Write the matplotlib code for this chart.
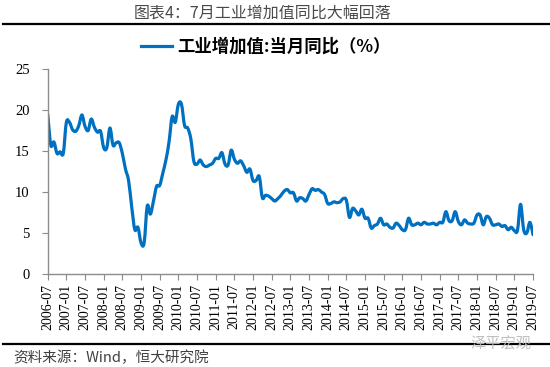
import matplotlib
matplotlib.use("Agg")
import matplotlib.pyplot as plt
from matplotlib.path import Path
from matplotlib.patches import PathPatch
from matplotlib.lines import Line2D
import numpy as np
import pandas as pd

plt.rcParams['font.family'] = ['Noto Sans CJK SC', 'DejaVu Sans']
plt.rcParams['font.serif'] = ['Liberation Serif', 'Times New Roman', 'DejaVu Serif']

title = "图表4：7月工业增加值同比大幅回落"
legend_label = "工业增加值:当月同比（%）"
source = "资料来源：Wind，恒大研究院"
watermark = "泽平宏观"
start_month = "2006-07"

# monthly YoY values, 2006-07 ... 2019-07
values = [
    19.5, 15.7, 16.1, 14.7, 14.9, 14.7,
    18.5, 18.5, 17.6, 17.4, 18.1, 19.4, 18.0, 17.5, 18.9, 17.9, 17.3, 17.4,
    15.4, 15.4, 17.8, 15.7, 16.0, 16.0, 14.7, 12.8, 11.4, 8.2, 5.4, 5.7,
    3.8, 3.8, 8.3, 7.3, 8.9, 10.7, 10.8, 12.3, 13.9, 16.1, 19.2, 18.5,
    20.7, 20.7, 18.1, 17.8, 16.5, 13.7, 13.4, 13.9, 13.3, 13.1, 13.3, 13.5,
    14.1, 14.1, 14.8, 13.4, 13.3, 15.1, 14.0, 13.5, 13.8, 13.2, 12.4, 12.8,
    11.4, 11.4, 11.9, 9.3, 9.6, 9.5, 9.2, 8.9, 9.2, 9.6, 10.1, 10.3,
    9.9, 9.9, 8.9, 9.3, 9.2, 8.9, 9.7, 10.4, 10.2, 10.3, 10.0, 9.7,
    8.6, 8.6, 8.8, 8.7, 8.8, 9.2, 9.0, 6.9, 8.0, 7.7, 7.2, 7.9,
    6.8, 6.8, 5.6, 5.9, 6.1, 6.8, 6.0, 6.1, 5.7, 5.6, 6.2, 5.9,
    5.4, 5.4, 6.8, 6.0, 6.0, 6.2, 6.0, 6.3, 6.1, 6.1, 6.2, 6.0,
    6.3, 6.3, 7.6, 6.5, 6.5, 7.6, 6.4, 6.0, 6.6, 6.2, 6.1, 6.2,
    7.2, 7.2, 6.0, 7.0, 6.8, 6.0, 6.0, 6.1, 5.8, 5.9, 5.4, 5.7,
    5.3, 5.3, 8.5, 5.4, 5.0, 6.3, 4.8,
]
y_ticks = [0, 5, 10, 15, 20, 25]

dates = pd.date_range(start_month, periods=len(values), freq="MS")
x = np.arange(len(values))
y = np.array(values, dtype=float)

fig = plt.figure(figsize=(5.5, 3.67), dpi=100)
W, H = 550, 367
ax = fig.add_axes([47.7 / W, 1 - 274 / H, (533 - 47.7) / W, (274 - 69) / H])

# smoothed line (Catmull-Rom -> cubic Bezier) like Excel's smoothed line
pts = np.column_stack([x, y])
verts = [pts[0]]
codes = [Path.MOVETO]
n = len(pts)
for i in range(n - 1):
    p0 = pts[i - 1] if i > 0 else pts[i]
    p1 = pts[i]
    p2 = pts[i + 1]
    p3 = pts[i + 2] if i + 2 < n else pts[i + 1]
    c1 = p1 + (p2 - p0) / 6.0
    c2 = p2 - (p3 - p1) / 6.0
    verts += [c1, c2, p2]
    codes += [Path.CURVE4] * 3
path = Path(verts, codes)
line_color = "#0070C0"
ax.add_patch(PathPatch(path, facecolor="none", edgecolor=line_color, lw=2.3,
                       capstyle="round", joinstyle="round"))

ax.set_xlim(0, len(values) - 1)
ax.set_ylim(0, 25)
ax.set_yticks(y_ticks)
tick_idx = x[::6]
ax.set_xticks(tick_idx)
serif_font = ['Liberation Serif', 'DejaVu Serif']
ax.set_yticklabels([str(v) for v in y_ticks], fontfamily=serif_font, fontsize=10.5)
ax.set_xticklabels([dates[i].strftime("%Y-%m") for i in tick_idx], rotation=90,
                   fontfamily=serif_font, fontsize=10)
for s in ["top", "right"]:
    ax.spines[s].set_visible(False)
for s in ["left", "bottom"]:
    ax.spines[s].set_color("#8c8c8c")
    ax.spines[s].set_linewidth(1.0)
ax.tick_params(axis="y", direction="out", length=4, color="#8c8c8c", pad=9, labelcolor="black")
ax.tick_params(axis="x", direction="out", length=4, color="#8c8c8c", pad=3, labelcolor="black")
for lab in ax.get_xticklabels() + ax.get_yticklabels():
    lab.set_fontfamily(serif_font)

# legend
handle = Line2D([], [], color=line_color, lw=2.3)
fig.legend([handle], [legend_label], loc="center", bbox_to_anchor=(266 / W, 1 - 47 / H),
           frameon=False, handlelength=1.8, handletextpad=0.3,
           prop={"family": ["Noto Sans CJK SC", "DejaVu Sans"], "weight": "bold", "size": 12.5})

# title and separator lines
fig.text(263 / W, 1 - 13 / H, title, ha="center", va="center", fontsize=11.5, color="#4a4a4a")
fig.add_artist(Line2D([3 / W, 1], [1 - 23.5 / H] * 2, transform=fig.transFigure, color="black", lw=1.6))
fig.add_artist(Line2D([3 / W, 1], [1 - 344 / H] * 2, transform=fig.transFigure, color="black", lw=1.6))

fig.text(13 / W, 1 - 358 / H, source, ha="left", va="center", fontsize=10.5,
         style="italic", color="#404040")
fig.text(501 / W, 1 - 344 / H, watermark, ha="center", va="center", fontsize=11,
         color="#b8b8b8", alpha=0.9)

fig.savefig("out.png", dpi=100)
